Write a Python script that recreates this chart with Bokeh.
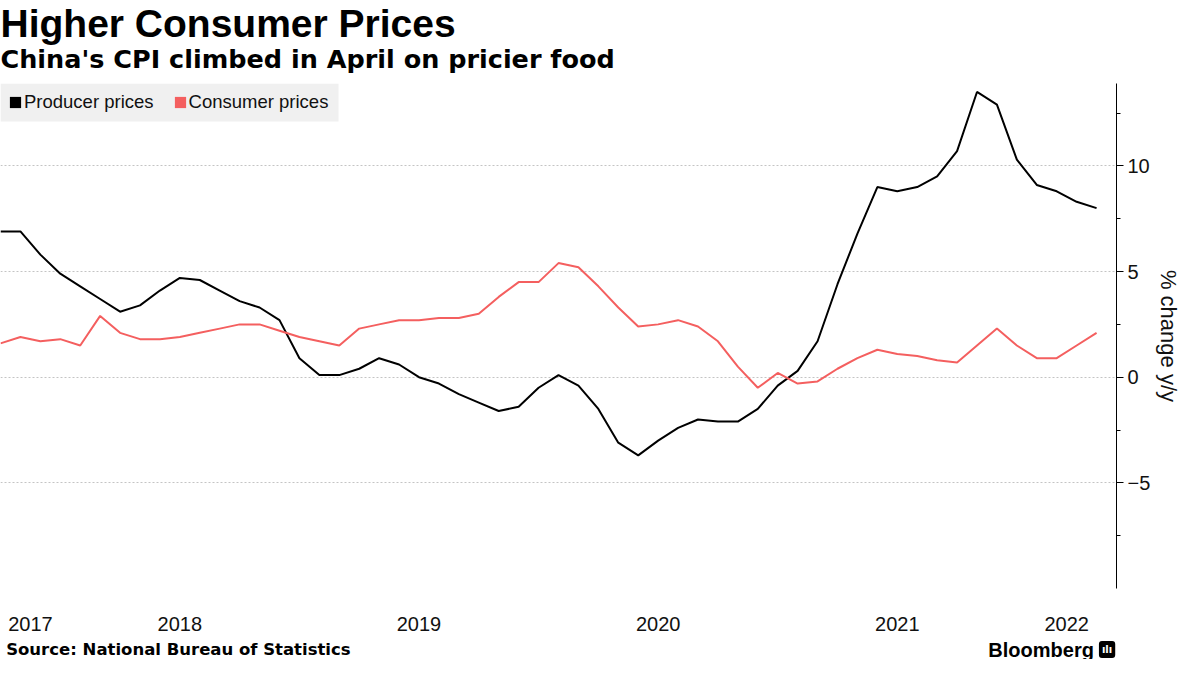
import numpy as np
import pandas as pd
from bokeh.plotting import figure
from bokeh.layouts import column
from bokeh.models import (ColumnDataSource, Range1d, FixedTicker, Legend,
                          LegendItem, BoxAnnotation)
from bokeh.core.properties import value
from bokeh.embed import file_html
from bokeh.resources import INLINE

# ---------------- data ----------------
months = [str(m) for m in pd.period_range("2017-09", "2022-04", freq="M")]

producer_prices = [
    6.9, 6.9, 5.8, 4.9,                                              # 2017 Sep-Dec
    4.3, 3.7, 3.1, 3.4, 4.1, 4.7, 4.6, 4.1, 3.6, 3.3, 2.7, 0.9,     # 2018
    0.1, 0.1, 0.4, 0.9, 0.6, 0.0, -0.3, -0.8, -1.2, -1.6, -1.4, -0.5,  # 2019
    0.1, -0.4, -1.5, -3.1, -3.7, -3.0, -2.4, -2.0, -2.1, -2.1, -1.5, -0.4,  # 2020
    0.3, 1.7, 4.4, 6.8, 9.0, 8.8, 9.0, 9.5, 10.7, 13.5, 12.9, 10.3,  # 2021
    9.1, 8.8, 8.3, 8.0,                                              # 2022 Jan-Apr
]
consumer_prices = [
    1.6, 1.9, 1.7, 1.8,
    1.5, 2.9, 2.1, 1.8, 1.8, 1.9, 2.1, 2.3, 2.5, 2.5, 2.2, 1.9,
    1.7, 1.5, 2.3, 2.5, 2.7, 2.7, 2.8, 2.8, 3.0, 3.8, 4.5, 4.5,
    5.4, 5.2, 4.3, 3.3, 2.4, 2.5, 2.7, 2.4, 1.7, 0.5, -0.5, 0.2,
    -0.3, -0.2, 0.4, 0.9, 1.3, 1.1, 1.0, 0.8, 0.7, 1.5, 2.3, 1.5,
    0.9, 0.9, 1.5, 2.1,
]
year_labels = ["2017", "2018", "2019", "2020", "2021", "2022"]
y_ticks = [-5, 0, 5, 10]
y_minor_ticks = [-7.5, -2.5, 2.5, 7.5, 12.5]

TITLE = "Higher Consumer Prices"
SUBTITLE = "China's CPI climbed in April on pricier food"
SOURCE = "Source:  National Bureau of Statistics"
BRAND = "Bloomberg"

RED = "#f45f5f"
W = 1184
RIGHT = 68
X_END = 56.0
Y_START, Y_END = -10, 13.9


def blank(height):
    f = figure(width=W, height=height, output_backend="svg", toolbar_location=None,
               x_range=Range1d(0, W), y_range=Range1d(0, height),
               x_axis_location=None, y_axis_location=None, min_border=0)
    f.outline_line_color = None
    f.xgrid.visible = False
    f.ygrid.visible = False
    f.background_fill_color = "white"
    f.border_fill_color = "white"
    return f


# ---------------- header ----------------
head = blank(80)
head.text(x=[0], y=[57], text=[TITLE], text_font=value("Liberation Sans"),
          text_font_style="bold", text_font_size="39px", text_color="black",
          text_baseline="alphabetic", text_align="left")
head.text(x=[0], y=[22], text=[SUBTITLE], text_font=value("DejaVu Sans"),
          text_font_style="bold", text_font_size="25.5px", text_color="black",
          text_baseline="alphabetic", text_align="left")

# ---------------- main chart ----------------
x = list(range(len(months)))
src = ColumnDataSource(dict(x=x, ppi=producer_prices, cpi=consumer_prices))

year_pos = []
for y in year_labels:
    idx = [i for i, m in enumerate(months) if m.startswith(y)]
    if len(idx) == 12:
        year_pos.append(float(months.index(y + "-06")))
    else:
        year_pos.append((idx[0] + idx[-1]) / 2.0)

p = figure(width=W, height=560, output_backend="svg", toolbar_location=None,
           x_range=Range1d(0, X_END), y_range=Range1d(Y_START, Y_END),
           y_axis_location="right",
           min_border_left=0, min_border_right=RIGHT,
           min_border_top=3, min_border_bottom=52)
p.outline_line_color = None
p.background_fill_color = "white"
p.border_fill_color = "white"

p.xgrid.visible = False
p.ygrid.grid_line_color = "#c4c4c4"
p.ygrid.grid_line_dash = "2 2"
p.ygrid.grid_line_width = 1

xa = p.xaxis[0]
xa.ticker = FixedTicker(ticks=year_pos)
xa.major_label_overrides = {pos: lab for pos, lab in zip(year_pos, year_labels)}
xa.axis_line_color = None
xa.major_tick_line_color = None
xa.minor_tick_line_color = None
xa.major_tick_out = 0
xa.major_tick_in = 0
xa.major_label_standoff = 28
xa.major_label_text_font = "Liberation Sans"
xa.major_label_text_font_size = "20px"
xa.major_label_text_color = "#111111"

ya = p.yaxis[0]
ya.ticker = FixedTicker(ticks=y_ticks, minor_ticks=y_minor_ticks)
ya.axis_line_color = "black"
ya.axis_line_width = 1
ya.major_tick_line_color = "black"
ya.minor_tick_line_color = "black"
ya.major_tick_out = 7
ya.major_tick_in = 0
ya.minor_tick_out = 4
ya.minor_tick_in = 0
ya.major_label_standoff = 4
ya.major_label_text_font = "Liberation Sans"
ya.major_label_text_font_size = "20px"
ya.major_label_text_color = "#111111"
ya.axis_label = "% change y/y"
ya.axis_label_text_font = "Liberation Sans"
ya.axis_label_text_font_size = "22px"
ya.axis_label_text_font_style = "normal"
ya.axis_label_text_color = "#111111"
ya.axis_label_standoff = 3

# legend background box (top-left corner of the plot area)
frame_w = W - RIGHT
frame_h = 560 - 3 - 52
px_x = X_END / frame_w
px_y = (Y_END - Y_START) / frame_h
p.add_layout(BoxAnnotation(left=0, right=338 * px_x, top=Y_END,
                           bottom=Y_END - 38 * px_y, fill_color="#f0f0f0",
                           fill_alpha=1, line_color=None, level="underlay"))

p.line("x", "ppi", source=src, line_color="black", line_width=2)
p.line("x", "cpi", source=src, line_color=RED, line_width=2)

sq_ppi = p.quad(left=[np.nan], right=[np.nan], top=[np.nan], bottom=[np.nan],
                fill_color="black", line_color=None)
sq_cpi = p.quad(left=[np.nan], right=[np.nan], top=[np.nan], bottom=[np.nan],
                fill_color=RED, line_color=None)
legend = Legend(items=[LegendItem(label="Producer prices", renderers=[sq_ppi]),
                       LegendItem(label="Consumer prices", renderers=[sq_cpi])],
                orientation="horizontal", location="top_left", margin=8,
                padding=0, spacing=19, glyph_width=14, glyph_height=14,
                label_standoff=2, label_text_font="Liberation Sans",
                label_text_font_size="18.5px", label_text_color="#111111",
                background_fill_alpha=0, border_line_color=None)
p.add_layout(legend)

# ---------------- footer ----------------
foot = blank(19)
foot.text(x=[6], y=[10], text=[SOURCE], text_font=value("DejaVu Sans"),
          text_font_style="bold", text_font_size="16.5px", text_color="black",
          text_baseline="alphabetic", text_align="left")
foot.text(x=[1160], y=[10], text=[BRAND], text_font=value("Liberation Sans"),
          text_font_style="bold", text_font_size="20px", text_color="black",
          text_baseline="alphabetic", text_align="right")
foot.text(x=[1174], y=[10], text=["ılı"], text_font=value("DejaVu Sans"),
          text_font_style="bold", text_font_size="10px", text_color="white",
          text_baseline="alphabetic", text_align="center",
          background_fill_color="black", padding=3, border_radius=3)

layout = column(head, p, foot, spacing=0)
open("out.html", "w").write(file_html(layout, INLINE))
